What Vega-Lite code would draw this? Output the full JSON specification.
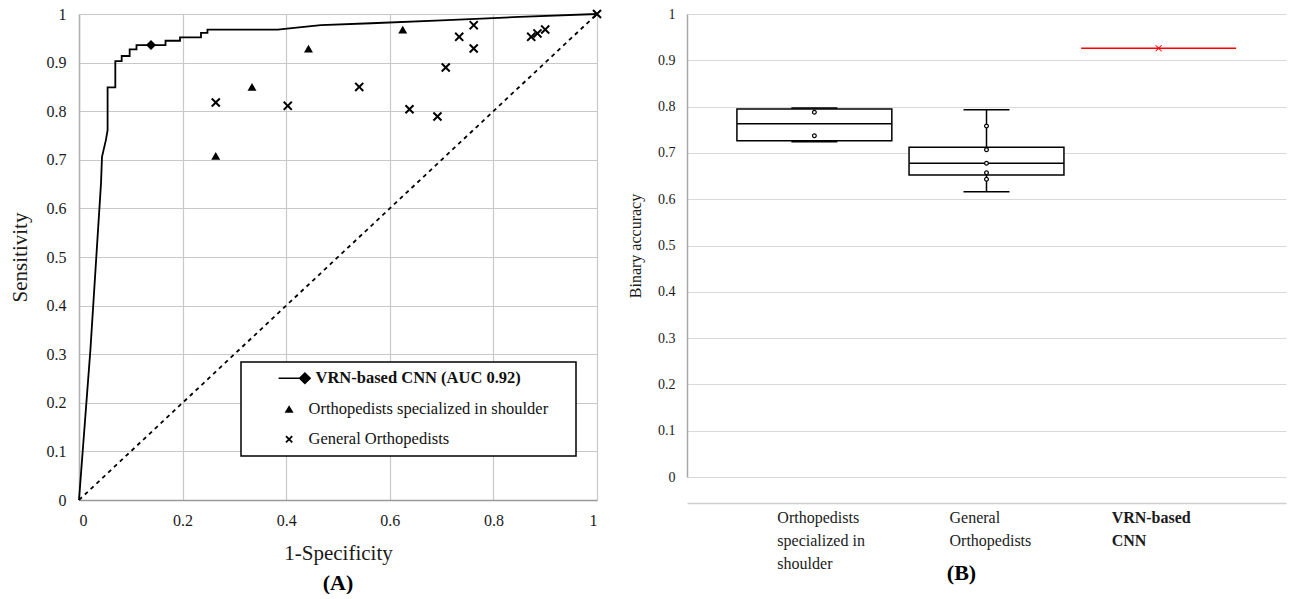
{
  "$schema": "https://vega.github.io/schema/vega-lite/v6.json",
  "padding": {"left": 9, "top": 6, "right": 5, "bottom": 0},
  "background": "white",
  "spacing": 25,
  "config": {
    "font": "Liberation Serif",
    "view": {"stroke": null},
    "axis": {"labelFont": "Liberation Serif", "titleFont": "Liberation Serif", "labelColor": "#1a1a1a", "titleColor": "#1a1a1a", "domain": true},
    "legend": {"labelFont": "Liberation Serif"},
    "style": {"guide-label": {"font": "Liberation Serif"}, "guide-title": {"font": "Liberation Serif"}}
  },
  "hconcat": [
    {
      "width": 518,
      "height": 486,
      "title": {"text": "(A)", "orient": "bottom", "fontSize": 22, "fontWeight": "bold", "font": "Liberation Serif", "color": "#000000", "offset": 10},
      "encoding": {
        "x": {
          "field": "fpr", "type": "quantitative",
          "scale": {"domain": [0, 1], "nice": false},
          "axis": {"title": "1-Specificity", "values": [0, 0.2, 0.4, 0.6, 0.8, 1], "format": "~g", "grid": true, "gridColor": "#c8c8c8", "gridWidth": 1.2, "domain": true, "domainColor": "#9a9a9a", "domainWidth": 1.5, "ticks": false, "labelPadding": 12, "labelFont": "Liberation Serif", "labelFontSize": 16, "titleFont": "Liberation Serif", "titleFontSize": 21, "titleFontWeight": "normal", "titlePadding": 14}
        },
        "y": {
          "field": "tpr", "type": "quantitative",
          "scale": {"domain": [0, 1], "nice": false},
          "axis": {"title": "Sensitivity", "values": [0, 0.1, 0.2, 0.3, 0.4, 0.5, 0.6, 0.7, 0.8, 0.9, 1], "format": "~g", "grid": true, "gridColor": "#c8c8c8", "gridWidth": 1.2, "domain": true, "domainColor": "#b0b0b0", "domainWidth": 1.5, "ticks": false, "labelPadding": 13, "labelFont": "Liberation Serif", "labelFontSize": 16, "titleFont": "Liberation Serif", "titleFontSize": 21, "titleFontWeight": "normal", "titlePadding": 16}
        }
      },
      "layer": [
        {
          "data": {"values": [{"fpr": 0, "tpr": 0}, {"fpr": 1, "tpr": 1}]},
          "mark": {"type": "line", "color": "black", "strokeWidth": 1.8, "strokeDash": [4, 4]}
        },
        {
          "data": {"values": [
            {"i": 0, "fpr": 0, "tpr": 0},
            {"i": 1, "fpr": 0.022, "tpr": 0.309},
            {"i": 2, "fpr": 0.0425, "tpr": 0.652},
            {"i": 3, "fpr": 0.0444, "tpr": 0.706},
            {"i": 4, "fpr": 0.052, "tpr": 0.741},
            {"i": 5, "fpr": 0.0552, "tpr": 0.761},
            {"i": 6, "fpr": 0.0552, "tpr": 0.849},
            {"i": 7, "fpr": 0.0701, "tpr": 0.849},
            {"i": 8, "fpr": 0.0701, "tpr": 0.903},
            {"i": 9, "fpr": 0.0824, "tpr": 0.903},
            {"i": 10, "fpr": 0.0824, "tpr": 0.9136},
            {"i": 11, "fpr": 0.0978, "tpr": 0.9136},
            {"i": 12, "fpr": 0.0978, "tpr": 0.9274},
            {"i": 13, "fpr": 0.111, "tpr": 0.9274},
            {"i": 14, "fpr": 0.111, "tpr": 0.936},
            {"i": 15, "fpr": 0.167, "tpr": 0.936},
            {"i": 16, "fpr": 0.167, "tpr": 0.945},
            {"i": 17, "fpr": 0.195, "tpr": 0.945},
            {"i": 18, "fpr": 0.195, "tpr": 0.952},
            {"i": 19, "fpr": 0.2355, "tpr": 0.952},
            {"i": 20, "fpr": 0.2355, "tpr": 0.961},
            {"i": 21, "fpr": 0.248, "tpr": 0.961},
            {"i": 22, "fpr": 0.248, "tpr": 0.968},
            {"i": 23, "fpr": 0.3835, "tpr": 0.968},
            {"i": 24, "fpr": 0.42, "tpr": 0.972},
            {"i": 25, "fpr": 0.467, "tpr": 0.977},
            {"i": 26, "fpr": 0.564, "tpr": 0.981},
            {"i": 27, "fpr": 0.7, "tpr": 0.987},
            {"i": 28, "fpr": 0.85, "tpr": 0.994},
            {"i": 29, "fpr": 1, "tpr": 1}
          ]},
          "mark": {"type": "line", "color": "black", "strokeWidth": 1.8},
          "encoding": {"order": {"field": "i", "type": "quantitative"}}
        },
        {
          "data": {"values": [{"fpr": 0.139, "tpr": 0.936}]},
          "mark": {"type": "point", "shape": "diamond", "filled": true, "size": 100, "opacity": 1, "color": "black"}
        },
        {
          "data": {"values": [
            {"fpr": 0.264, "tpr": 0.708},
            {"fpr": 0.334, "tpr": 0.85},
            {"fpr": 0.443, "tpr": 0.929},
            {"fpr": 0.625, "tpr": 0.968}
          ]},
          "mark": {"type": "point", "shape": "triangle-up", "filled": true, "size": 80, "opacity": 1, "color": "black"}
        },
        {
          "data": {"values": [
            {"fpr": 0.264, "tpr": 0.818},
            {"fpr": 0.403, "tpr": 0.811},
            {"fpr": 0.541, "tpr": 0.85},
            {"fpr": 0.638, "tpr": 0.804},
            {"fpr": 0.692, "tpr": 0.789},
            {"fpr": 0.708, "tpr": 0.89},
            {"fpr": 0.734, "tpr": 0.953},
            {"fpr": 0.762, "tpr": 0.977},
            {"fpr": 0.762, "tpr": 0.929},
            {"fpr": 0.873, "tpr": 0.953},
            {"fpr": 0.885, "tpr": 0.96},
            {"fpr": 0.9, "tpr": 0.968},
            {"fpr": 1, "tpr": 1}
          ]},
          "mark": {"type": "point", "shape": "M-1,-0.7L-0.7,-1L0,-0.3L0.7,-1L1,-0.7L0.3,0L1,0.7L0.7,1L0,0.3L-0.7,1L-1,0.7L-0.3,0Z", "filled": true, "size": 90, "opacity": 1, "color": "black"}
        },
        {
          "data": {"values": [
            {"group": "VRN-based CNN (AUC 0.92)", "fpr": 0.139, "tpr": 0.936},
            {"group": "Orthopedists specialized in shoulder", "fpr": 0.264, "tpr": 0.708},
            {"group": "General Orthopedists", "fpr": 0.264, "tpr": 0.818}
          ]},
          "mark": {"type": "point", "filled": true, "size": 90, "opacity": 0, "color": "black"},
          "encoding": {
            "shape": {
              "field": "group", "type": "nominal",
              "scale": {
                "domain": ["VRN-based CNN (AUC 0.92)", "Orthopedists specialized in shoulder", "General Orthopedists"],
                "range": [
                  "M-2.73,-0.16H2.53V0.16H-2.73Z M1.26,0L2.53,-1.27L3.8,0L2.53,1.27Z",
                  "M-0.63,-0.8L0.27,0.7L-1.53,0.7Z",
                  "M-1.38,-0.5L-1.13,-0.75L-0.63,-0.25L-0.13,-0.75L0.12,-0.5L-0.38,0L0.12,0.5L-0.13,0.75L-0.63,0.25L-1.13,0.75L-1.38,0.5L-0.88,0Z"
                ]
              },
              "legend": {
                "title": null,
                "orient": "none",
                "legendX": 162,
                "legendY": 348,
                "padding": 8,
                "strokeColor": "black",
                "fillColor": "white",
                "symbolOpacity": 1,
                "labelFont": "Liberation Serif",
                "labelFontSize": 16.5,
                "labelColor": "#111111",
                "rowPadding": 13,
                "symbolOffset": 35,
                "labelOffset": 8,
                "labelLimit": 500,
                "labelExpr": "datum.label == 'Orthopedists specialized in shoulder' ? datum.label + '\u2003\u2009\u200b' : datum.label",
                "encoding": {
                  "legend": {"strokeWidth": {"value": 1.5}},
                  "labels": {"fontWeight": {"condition": {"test": "datum.value == 'VRN-based CNN (AUC 0.92)'", "value": "bold"}, "value": "normal"}, "dx": {"condition": {"test": "datum.value == 'VRN-based CNN (AUC 0.92)'", "value": 7}, "value": 0}}
                }
              }
            }
          }
        }
      ]
    },
    {
      "width": 599,
      "height": 463,
      "title": {"text": "(B)", "orient": "bottom", "fontSize": 22, "fontWeight": "bold", "font": "Liberation Serif", "color": "#000000", "offset": -8, "dx": -25},
      "encoding": {
        "x": {
          "field": "group", "type": "nominal",
          "scale": {"domain": ["Orthopedists specialized in shoulder", "General Orthopedists", "VRN-based CNN"], "paddingInner": 0.1, "paddingOuter": 0.29},
          "axis": {
            "title": null, "offset": 26, "domain": true, "domainColor": "#cfcfcf", "domainWidth": 1.5, "ticks": false, "grid": false,
            "labelAngle": 0, "labelAlign": "left", "labelBaseline": "top",
            "labelOffset": {"condition": {"test": "datum.value == 'VRN-based CNN'", "value": -47}, "value": -37},
            "labelPadding": 6, "labelFont": "Liberation Serif", "labelFontSize": 16, "labelLineHeight": 23, "labelLimit": 300,
            "labelFontWeight": {"condition": {"test": "datum.value == 'VRN-based CNN'", "value": "bold"}, "value": "normal"},
            "labelExpr": "datum.value == 'Orthopedists specialized in shoulder' ? ['Orthopedists', 'specialized in', 'shoulder'] : datum.value == 'General Orthopedists' ? ['General', 'Orthopedists'] : ['VRN-based', 'CNN']"
          }
        }
      },
      "layer": [
        {
          "data": {"values": [
            {"group": "Orthopedists specialized in shoulder", "min": 0.724, "q1": 0.726, "median": 0.763, "q3": 0.795, "max": 0.797},
            {"group": "General Orthopedists", "min": 0.616, "q1": 0.652, "median": 0.6775, "q3": 0.712, "max": 0.793}
          ]},
          "layer": [
            {
              "mark": {"type": "rule", "color": "black", "strokeWidth": 1.5},
              "encoding": {
                "y": {
                  "field": "min", "type": "quantitative", "title": "Binary accuracy",
                  "scale": {"domain": [0, 1], "nice": false},
                  "axis": {"title": "Binary accuracy", "values": [0, 0.1, 0.2, 0.3, 0.4, 0.5, 0.6, 0.7, 0.8, 0.9, 1], "format": "~g", "grid": true, "gridColor": "#d9d9d9", "gridWidth": 1.2, "domain": true, "domainColor": "#a6a6a6", "domainWidth": 1.5, "ticks": false, "labelFont": "Liberation Serif", "labelFontSize": 14, "labelPadding": 12, "titleFont": "Liberation Serif", "titleFontSize": 16, "titleFontWeight": "normal", "titlePadding": 14}
                },
                "y2": {"field": "max"}
              }
            },
            {
              "mark": {"type": "bar", "fill": "white", "stroke": "black", "strokeWidth": 1.5},
              "encoding": {
                "y": {"field": "q1", "type": "quantitative", "title": "Binary accuracy"},
                "y2": {"field": "q3"}
              }
            },
            {
              "mark": {"type": "tick", "color": "black", "size": 155, "thickness": 1.5, "opacity": 1},
              "encoding": {"y": {"field": "median", "type": "quantitative", "title": "Binary accuracy"}}
            },
            {
              "mark": {"type": "tick", "color": "black", "size": 46, "thickness": 1.5, "opacity": 1},
              "encoding": {"y": {"field": "max", "type": "quantitative", "title": "Binary accuracy"}}
            },
            {
              "mark": {"type": "tick", "color": "black", "size": 46, "thickness": 1.5, "opacity": 1},
              "encoding": {"y": {"field": "min", "type": "quantitative", "title": "Binary accuracy"}}
            }
          ]
        },
        {
          "data": {"values": [
            {"group": "Orthopedists specialized in shoulder", "acc": 0.788},
            {"group": "Orthopedists specialized in shoulder", "acc": 0.737},
            {"group": "General Orthopedists", "acc": 0.758},
            {"group": "General Orthopedists", "acc": 0.707},
            {"group": "General Orthopedists", "acc": 0.6775},
            {"group": "General Orthopedists", "acc": 0.657},
            {"group": "General Orthopedists", "acc": 0.643}
          ]},
          "mark": {"type": "point", "shape": "circle", "size": 14, "fill": "white", "stroke": "black", "strokeWidth": 1.2, "opacity": 1, "filled": false},
          "encoding": {"y": {"field": "acc", "type": "quantitative", "title": "Binary accuracy"}}
        },
        {
          "data": {"values": [{"group": "VRN-based CNN", "acc": 0.926}]},
          "layer": [
            {
              "mark": {"type": "tick", "color": "#ff0000", "size": 155, "thickness": 1.5, "opacity": 1},
              "encoding": {"y": {"field": "acc", "type": "quantitative", "title": "Binary accuracy"}}
            },
            {
              "mark": {"type": "point", "shape": "M-1,-0.8L-0.8,-1L0,-0.2L0.8,-1L1,-0.8L0.2,0L1,0.8L0.8,1L0,0.2L-0.8,1L-1,0.8L-0.2,0Z", "filled": true, "color": "#ff0000", "size": 45, "opacity": 1},
              "encoding": {"y": {"field": "acc", "type": "quantitative", "title": "Binary accuracy"}}
            }
          ]
        }
      ]
    }
  ]
}
